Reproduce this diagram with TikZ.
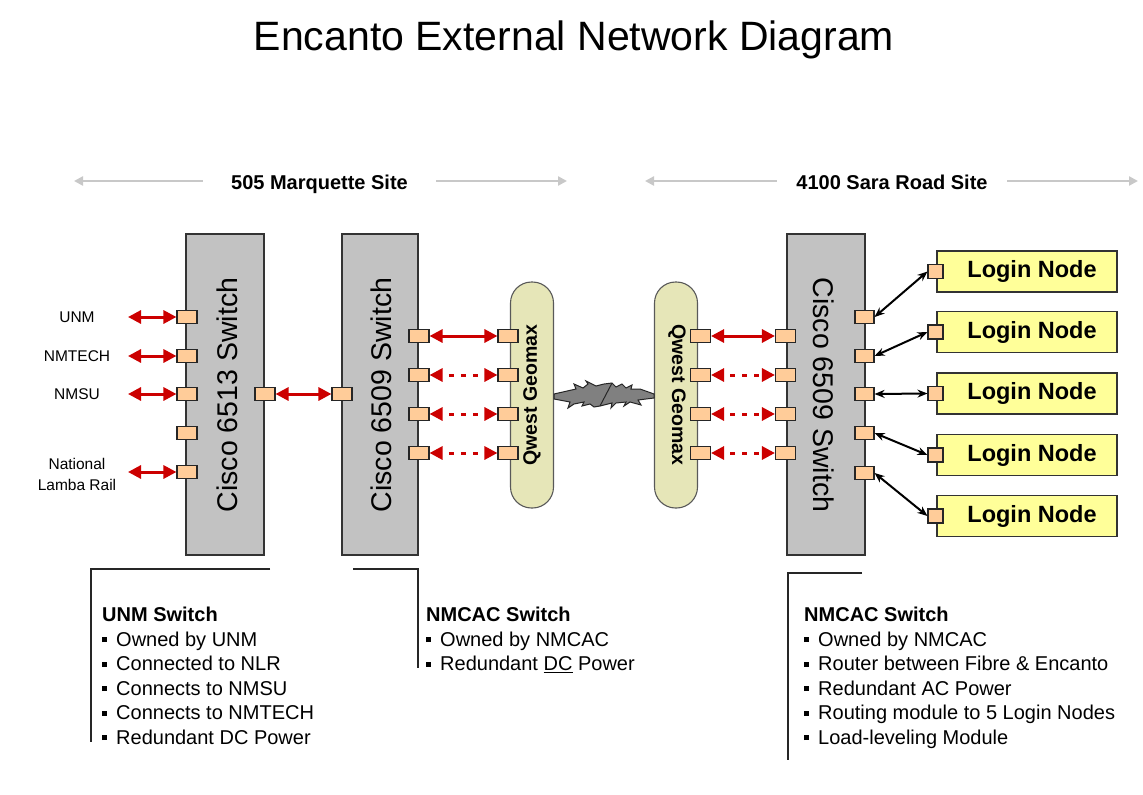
\documentclass[tikz,border=0pt]{standalone}
\usepackage{fontspec}
\setmainfont{Liberation Sans}
\usetikzlibrary{arrows.meta}
\definecolor{portfill}{HTML}{FFCC99}
\definecolor{swfill}{HTML}{C2C2C2}
\definecolor{ovalfill}{HTML}{E6E6B8}
\definecolor{loginfill}{HTML}{FFFF99}
\definecolor{linkred}{HTML}{CC0000}
\definecolor{sitegrey}{HTML}{C8C8C8}
\definecolor{boltgrey}{HTML}{808080}
\newcommand\bsq{\raisebox{0.2em}{\rule{0.25em}{0.25em}}\hspace{0.45em}}
\begin{document}
\begin{tikzpicture}[x=1pt,y=-1pt,
  switchbox/.style={draw=black!80, line width=1.2pt, fill=swfill, minimum width=78pt, minimum height=321pt, inner sep=0pt},
  port/.style={draw=black!85, line width=1.1pt, fill=portfill, minimum width=20pt, minimum height=13pt, inner sep=0pt},
  lport/.style={port, minimum width=15pt, minimum height=14pt},
  oval/.style={draw=black!65, line width=1.1pt, fill=ovalfill, rounded corners=21pt, minimum width=43pt, minimum height=226pt, inner sep=0pt},
  login/.style={draw=black!80, line width=1.2pt, fill=loginfill, minimum width=180pt, minimum height=41pt, inner sep=0pt, font=\fontsize{23.5}{23.5}\selectfont\bfseries},
  swlabel/.style={font=\fontsize{28.5}{28.5}\selectfont},
  qlabel/.style={font=\fontsize{19.5}{19.5}\selectfont\bfseries},
  extlabel/.style={font=\fontsize{15.5}{21}\selectfont, align=center},
  sitelabel/.style={font=\fontsize{20}{20}\selectfont\bfseries, anchor=base},
  redlink/.style={linkred, line width=3pt, {Triangle[length=13pt,width=13pt]}-{Triangle[length=13pt,width=13pt]}},
  dotlink/.style={redlink, dash pattern=on 5pt off 7pt, dash phase=5pt},
  blklink/.style={black, line width=2pt, {Stealth[length=10pt,width=8pt]}-{Stealth[length=10pt,width=8pt]}},
  sitearrow/.style={sitegrey, line width=2.5pt, -{Triangle[length=9pt,width=9pt]}},
  callout/.style={black!85, line width=1.5pt},
  infotext/.style={anchor=north west, align=left, inner sep=0pt, font=\fontsize{20}{24.5}\selectfont}
]
\useasboundingbox (0,0) rectangle (1143,795);
\fill[white] (0,0) rectangle (1143,795);

% title
\node[font=\fontsize{41}{41}\selectfont, anchor=base] (title) at (574,50) {Encanto External Network Diagram};

% site labels
\node[sitelabel, minimum width=233pt] (site1) at (319.5,189) {505 Marquette Site};
\node[sitelabel, minimum width=230pt] (site2) at (892,189) {4100 Sara Road Site};
\coordinate (s1l) at (74,181);
\coordinate (s1r) at (567,181);
\coordinate (s2l) at (645,181);
\coordinate (s2r) at (1138,181);
\draw[sitearrow] (site1.west |- s1l) -- (s1l);
\draw[sitearrow] (site1.east |- s1r) -- (s1r);
\draw[sitearrow] (site2.west |- s2l) -- (s2l);
\draw[sitearrow] (site2.east |- s2r) -- (s2r);

% switches
\node[switchbox] (sw1) at (225,394.5) {};
\node[switchbox, minimum width=76pt] (sw2) at (380,394.5) {};
\node[switchbox] (sw3) at (826,394.5) {};
\node[swlabel, rotate=90] (sw1t) at (227,395) {Cisco 6513 Switch};
\node[swlabel, rotate=90] (sw2t) at (381,395) {Cisco 6509 Switch};
\node[swlabel, rotate=-90] (sw3t) at (824,395) {Cisco 6509 Switch};

% Qwest ovals
\node[oval] (qw1) at (532,395) {};
\node[oval] (qw2) at (676,395) {};
\node[qlabel, rotate=90] (qw1t) at (532,395) {Qwest Geomax};
\node[qlabel, rotate=-90] (qw2t) at (677,395) {Qwest Geomax};

% lightning between ovals
\filldraw[fill=boltgrey, draw=black!85, line width=1pt, line join=miter]
  (554,394) -- (576,389) -- (574,384) -- (583,388) -- (588,384) -- (586,381) -- (596,386)
  -- (604,384) -- (612,383) -- (616,387) -- (622,384) -- (626,388) -- (632,385) -- (631,389)
  -- (640,389) -- (654,394) -- (654,398) -- (638,400) -- (641,405) -- (630,402) -- (624,406)
  -- (626,402) -- (616,403) -- (611,408) -- (612,403) -- (600,406) -- (594,407) -- (590,404)
  -- (582,406) -- (584,402) -- (574,404) -- (568,408) -- (570,402) -- (554,399) -- cycle;
\draw[black!85, line width=1pt] (612,383) -- (600,406);

% external labels
\node[extlabel] (unm) at (77,317) {UNM};
\node[extlabel] (nmtech) at (77,356) {NMTECH};
\node[extlabel] (nmsu) at (77,394) {NMSU};
\node[extlabel] (nlr) at (77,474) {National\\Lamba Rail};

% ports on 6513 left
\foreach \n/\y in {1/317,2/356,3/394,4/433,5/472}
  \node[port] (a\n) at (187,\y) {};
\foreach \n/\y in {1/317,2/356,3/394,5/472}
  \coordinate (e\n) at (128,\y);
\foreach \n in {1,2,3,5}
  \draw[redlink] (e\n) -- (a\n.west);

% 6513 <-> 6509
\node[port] (b1) at (265,394) {};
\node[port] (b2) at (342,394) {};
\draw[redlink] (b1.east) -- (b2.west);

% 6509 <-> Qwest <-> 6509
\foreach \n/\y in {1/336,2/375,3/414,4/453}{
  \node[port] (c\n) at (419,\y) {};
  \node[port] (d\n) at (508,\y) {};
  \node[port] (f\n) at (700.5,\y) {};
  \node[port] (g\n) at (785.5,\y) {};
}
\draw[redlink] (c1.east) -- (d1.west);
\draw[redlink] (f1.east) -- (g1.west);
\foreach \n in {2,3,4}{
  \draw[dotlink] (c\n.east) -- (d\n.west);
  \draw[dotlink] (f\n.east) -- (g\n.west);
}

% login nodes
\foreach \n/\sy/\ly in {1/317/271.5,2/356/332,3/394/393.5,4/433/455,5/473/516}{
  \node[port, minimum width=19pt] (h\n) at (864.5,\sy) {};
  \node[login] (ln\n) at (1027,\ly) {\hspace{10pt}Login Node};
  \node[lport] (lp\n) at (935.5,\ly) {};
  \draw[blklink] (h\n.east) -- (lp\n.west);
}

% callouts
\draw[callout] (270,569) -- (91,569) -- (91,742);
\draw[callout] (353,569) -- (418,569) -- (418,668);
\draw[callout] (862,573) -- (788,573) -- (788,760);

\node[infotext] (info1) at (102,607) {\textbf{UNM Switch}\\
\bsq Owned by UNM\\
\bsq Connected to NLR\\
\bsq Connects to NMSU\\
\bsq Connects to NMTECH\\
\bsq Redundant DC Power};

\node[infotext] (info2) at (426,607) {\textbf{NMCAC Switch}\\
\bsq Owned by NMCAC\\
\bsq Redundant \underline{DC} Power};

\node[infotext] (info3) at (804,607) {\textbf{NMCAC Switch}\\
\bsq Owned by NMCAC\\
\bsq Router between Fibre \& Encanto\\
\bsq Redundant AC Power\\
\bsq Routing module to 5 Login Nodes\\
\bsq Load-leveling Module};
\end{tikzpicture}
\end{document}
